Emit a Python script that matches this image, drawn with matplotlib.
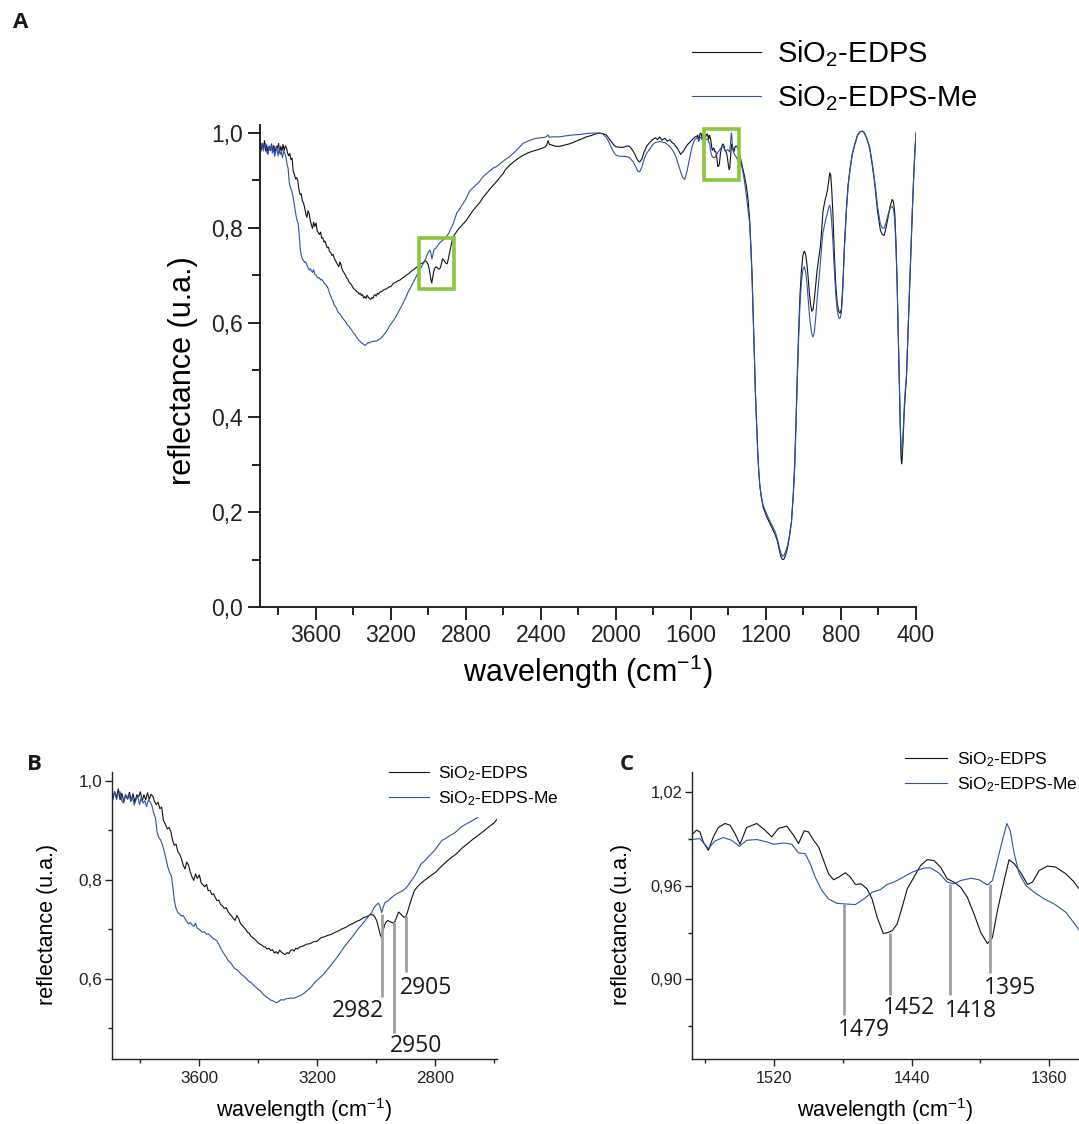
import matplotlib
matplotlib.use("Agg")
import matplotlib.pyplot as plt
from matplotlib.patches import Rectangle
from matplotlib.ticker import FuncFormatter, MultipleLocator

plt.rcParams["font.family"] = ["Liberation Sans", "DejaVu Sans"]
plt.rcParams["mathtext.fontset"] = "custom"
plt.rcParams["mathtext.rm"] = "Liberation Sans"
plt.rcParams["mathtext.default"] = "regular"

# ---- data: 3900-2590 cm-1 (OH / CH stretch region) ----
wn_edps_hi = [3898, 3893, 3886, 3880, 3874, 3868, 3862, 3855, 3849, 3842, 3836, 3830, 3824, 3818, 3811,
              3805, 3799, 3793, 3787, 3781, 3775, 3769, 3763, 3757, 3751, 3745, 3739, 3733, 3727, 3721,
              3714, 3708, 3702, 3696, 3690, 3684, 3678, 3672, 3666, 3660, 3654, 3648, 3642, 3636, 3630,
              3624, 3618, 3612, 3606, 3599, 3593, 3587, 3581, 3575, 3569, 3563, 3557, 3551, 3545, 3539,
              3533, 3527, 3521, 3515, 3508, 3502, 3496, 3490, 3484, 3478, 3472, 3466, 3460, 3454, 3448,
              3442, 3436, 3430, 3424, 3418, 3411, 3405, 3399, 3393, 3387, 3381, 3375, 3369, 3363, 3357,
              3351, 3345, 3339, 3333, 3327, 3321, 3314, 3308, 3302, 3296, 3290, 3284, 3278, 3272, 3266,
              3260, 3248, 3236, 3224, 3212, 3200, 3187, 3175, 3163, 3151, 3139, 3127, 3115, 3103, 3090,
              3078, 3066, 3054, 3042, 3030, 3018, 3010, 3003, 2997, 2991, 2986, 2982, 2978, 2972, 2966,
              2960, 2954, 2948, 2942, 2936, 2930, 2924, 2918, 2912, 2906, 2900, 2893, 2886, 2878, 2870,
              2860, 2848, 2836, 2818, 2799, 2781, 2763, 2745, 2727, 2709, 2690, 2672, 2654, 2636, 2618,
              2600, 2591]
r_edps_hi = [0.988, 0.962, 0.978, 0.966, 0.984, 0.962, 0.975, 0.958, 0.972, 0.963, 0.977, 0.960, 0.974, 0.957, 0.972,
             0.968, 0.978, 0.959, 0.972, 0.962, 0.976, 0.963, 0.973, 0.969, 0.958, 0.952, 0.957, 0.944, 0.947, 0.920,
             0.912, 0.903, 0.906, 0.898, 0.880, 0.870, 0.872, 0.857, 0.852, 0.843, 0.830, 0.822, 0.836, 0.830, 0.816,
             0.806, 0.799, 0.812, 0.803, 0.810, 0.794, 0.790, 0.786, 0.791, 0.778, 0.779, 0.770, 0.772, 0.764, 0.758,
             0.759, 0.750, 0.748, 0.742, 0.744, 0.736, 0.731, 0.727, 0.722, 0.718, 0.728, 0.722, 0.712, 0.708, 0.704,
             0.700, 0.694, 0.692, 0.686, 0.683, 0.680, 0.676, 0.672, 0.670, 0.668, 0.665, 0.664, 0.660, 0.662, 0.657,
             0.659, 0.652, 0.655, 0.651, 0.658, 0.654, 0.651, 0.649, 0.653, 0.651, 0.657, 0.659, 0.656, 0.662, 0.660,
             0.664, 0.666, 0.670, 0.671, 0.675, 0.676, 0.683, 0.685, 0.688, 0.690, 0.694, 0.697, 0.701, 0.704, 0.709,
             0.712, 0.716, 0.719, 0.724, 0.726, 0.730, 0.729, 0.724, 0.716, 0.702, 0.690, 0.684, 0.693, 0.707, 0.715,
             0.718, 0.716, 0.714, 0.713, 0.716, 0.725, 0.735, 0.732, 0.728, 0.725, 0.724, 0.736, 0.750, 0.765, 0.778,
             0.786, 0.793, 0.799, 0.807, 0.815, 0.826, 0.836, 0.845, 0.853, 0.864, 0.873, 0.882, 0.890, 0.898, 0.907,
             0.915, 0.922]

wn_me_hi = [3898, 3892, 3886, 3880, 3874, 3868, 3862, 3856, 3850, 3844, 3838, 3832, 3826, 3820, 3814,
            3808, 3802, 3796, 3790, 3784, 3778, 3772, 3766, 3760, 3754, 3748, 3742, 3736, 3730, 3724,
            3718, 3712, 3706, 3700, 3694, 3688, 3684, 3678, 3672, 3666, 3660, 3654, 3648, 3642, 3636,
            3630, 3624, 3618, 3612, 3606, 3599, 3593, 3587, 3581, 3575, 3569, 3563, 3557, 3551, 3545,
            3539, 3533, 3527, 3521, 3515, 3508, 3502, 3496, 3490, 3484, 3478, 3472, 3466, 3460, 3454,
            3448, 3442, 3436, 3430, 3424, 3418, 3411, 3405, 3399, 3393, 3387, 3381, 3375, 3369, 3363,
            3357, 3351, 3345, 3339, 3333, 3327, 3321, 3314, 3308, 3302, 3290, 3278, 3266, 3254, 3242,
            3230, 3218, 3206, 3194, 3182, 3170, 3158, 3146, 3134, 3122, 3110, 3098, 3086, 3074, 3062,
            3050, 3038, 3026, 3014, 3006, 2998, 2992, 2986, 2981, 2975, 2969, 2960, 2950, 2940, 2930,
            2920, 2910, 2900, 2890, 2880, 2872, 2860, 2848, 2836, 2824, 2812, 2800, 2788, 2776, 2763,
            2751, 2739, 2727, 2715, 2703, 2691, 2679, 2667, 2656]
r_me_hi = [0.991, 0.970, 0.978, 0.962, 0.975, 0.978, 0.960, 0.955, 0.972, 0.964, 0.975, 0.958, 0.968, 0.951, 0.962,
           0.970, 0.952, 0.966, 0.955, 0.960, 0.948, 0.962, 0.958, 0.950, 0.935, 0.925, 0.895, 0.885, 0.880, 0.870,
           0.857, 0.842, 0.826, 0.815, 0.808, 0.780, 0.758, 0.742, 0.734, 0.731, 0.727, 0.728, 0.722, 0.716, 0.711,
           0.714, 0.709, 0.706, 0.712, 0.702, 0.700, 0.696, 0.694, 0.695, 0.690, 0.691, 0.688, 0.684, 0.681, 0.679,
           0.676, 0.670, 0.662, 0.656, 0.650, 0.644, 0.637, 0.634, 0.630, 0.624, 0.620, 0.619, 0.615, 0.611, 0.608,
           0.605, 0.602, 0.598, 0.594, 0.593, 0.589, 0.585, 0.582, 0.578, 0.576, 0.572, 0.568, 0.565, 0.562, 0.560,
           0.557, 0.556, 0.554, 0.552, 0.553, 0.556, 0.558, 0.557, 0.559, 0.560, 0.561, 0.561, 0.564, 0.567, 0.572,
           0.578, 0.585, 0.594, 0.600, 0.607, 0.615, 0.624, 0.633, 0.642, 0.652, 0.663, 0.672, 0.681, 0.690, 0.700,
           0.708, 0.717, 0.726, 0.735, 0.745, 0.750, 0.753, 0.745, 0.734, 0.746, 0.755, 0.757, 0.763, 0.768, 0.772,
           0.775, 0.778, 0.783, 0.790, 0.799, 0.805, 0.818, 0.832, 0.838, 0.846, 0.853, 0.861, 0.871, 0.880, 0.884,
           0.889, 0.893, 0.898, 0.905, 0.910, 0.914, 0.918, 0.922, 0.926]

# ---- data: 2640-1575 cm-1 ----
wn_edps_mid = [2567, 2540, 2520, 2496, 2470, 2450, 2425, 2400, 2380, 2370, 2362, 2355, 2344, 2320, 2300,
               2270, 2250, 2229, 2200, 2180, 2158, 2130, 2110, 2087, 2070, 2051, 2030, 2010, 1998, 1980,
               1960, 1940, 1927, 1910, 1895, 1885, 1874, 1862, 1850, 1835, 1820, 1805, 1790, 1778, 1767,
               1755, 1740, 1725, 1713, 1700, 1690, 1670, 1655, 1640, 1620, 1605, 1589, 1578]
r_edps_mid = [0.932, 0.941, 0.947, 0.953, 0.958, 0.961, 0.964, 0.967, 0.970, 0.974, 0.984, 0.976, 0.975, 0.972, 0.972,
              0.975, 0.977, 0.980, 0.985, 0.988, 0.992, 0.995, 0.998, 1.000, 0.999, 0.996, 0.985, 0.974, 0.971, 0.970,
              0.970, 0.973, 0.972, 0.963, 0.952, 0.943, 0.939, 0.945, 0.960, 0.973, 0.980, 0.986, 0.990, 0.986, 0.992,
              0.985, 0.989, 0.983, 0.986, 0.980, 0.977, 0.966, 0.955, 0.962, 0.975, 0.981, 0.988, 0.992]

wn_me_mid = [2638, 2610, 2590, 2567, 2540, 2520, 2496, 2470, 2450, 2425, 2400, 2380, 2370, 2362, 2355,
             2340, 2300, 2270, 2229, 2190, 2158, 2120, 2087, 2070, 2055, 2042, 2025, 2010, 1998, 1980,
             1960, 1940, 1927, 1910, 1895, 1884, 1874, 1862, 1850, 1835, 1820, 1805, 1790, 1767, 1740,
             1713, 1695, 1680, 1669, 1655, 1645, 1633, 1622, 1607, 1595, 1582]
r_me_mid = [0.929, 0.938, 0.944, 0.950, 0.960, 0.968, 0.978, 0.983, 0.986, 0.989, 0.990, 0.991, 0.993, 0.996, 0.991,
            0.992, 0.992, 0.994, 0.996, 0.997, 0.999, 1.000, 1.000, 0.998, 0.992, 0.985, 0.970, 0.958, 0.953, 0.951,
            0.951, 0.950, 0.948, 0.940, 0.930, 0.920, 0.918, 0.928, 0.945, 0.958, 0.966, 0.975, 0.980, 0.982, 0.980,
            0.972, 0.962, 0.950, 0.936, 0.918, 0.907, 0.902, 0.918, 0.947, 0.970, 0.985]

# ---- data: 1568-1342 cm-1 (CH bending region) ----
wn_edps_c = [1568.1, 1565.2, 1563.2, 1561.3, 1558.3, 1555.4, 1552.5, 1548.6, 1545.7, 1542.8, 1539.9, 1536.0,
             1530.1, 1525.3, 1521.4, 1517.5, 1512.6, 1508.7, 1505.8, 1502.5, 1500.0, 1497.0, 1494.1, 1491.2,
             1488.3, 1485.4, 1482.4, 1478.5, 1475.6, 1472.7, 1469.4, 1465.9, 1463.0, 1460.0, 1456.5, 1454.2,
             1451.3, 1448.4, 1445.5, 1442.5, 1438.6, 1434.7, 1430.9, 1427.0, 1423.1, 1419.2, 1415.3, 1411.4,
             1407.5, 1403.6, 1399.7, 1395.8, 1392.9, 1390.0, 1386.1, 1383.2, 1380.2, 1376.3, 1372.5, 1369.6,
             1365.7, 1360.8, 1356.0, 1350.1, 1345.3, 1342.0]
r_edps_c = [0.9925, 0.9957, 0.9946, 0.9882, 0.9828, 0.9914, 0.9974, 1.0000, 0.9989, 0.9935, 0.9867, 0.9974,
            1.0000, 0.9957, 0.9914, 0.9968, 0.9983, 0.9925, 0.9871, 0.9953, 0.9946, 0.9892, 0.9849, 0.9763,
            0.9677, 0.9639, 0.9656, 0.9684, 0.9656, 0.9609, 0.9613, 0.9581, 0.9516, 0.9398, 0.9295, 0.9299,
            0.9312, 0.9355, 0.9462, 0.9581, 0.9656, 0.9731, 0.9768, 0.9763, 0.9720, 0.9645, 0.9624, 0.9591,
            0.9527, 0.9419, 0.9301, 0.9230, 0.9269, 0.9441, 0.9634, 0.9768, 0.9742, 0.9682, 0.9609, 0.9624,
            0.9699, 0.9727, 0.9720, 0.9677, 0.9624, 0.9574]

wn_me_c = [1568.1, 1563.2, 1558.3, 1554.4, 1549.6, 1544.7, 1540.2, 1536.0, 1530.1, 1524.3, 1520.4, 1514.5,
           1509.7, 1505.8, 1501.9, 1499.0, 1496.1, 1492.2, 1488.3, 1483.4, 1478.5, 1472.7, 1467.8, 1463.0,
           1458.1, 1454.2, 1450.3, 1445.5, 1439.6, 1432.8, 1428.9, 1424.0, 1419.2, 1415.3, 1411.4, 1405.5,
           1400.7, 1395.8, 1392.9, 1390.0, 1387.1, 1384.5, 1382.6, 1380.2, 1377.3, 1373.4, 1368.6, 1362.7,
           1356.9, 1350.1, 1342.0]
r_me_c = [0.9897, 0.9903, 0.9839, 0.9888, 0.9910, 0.9892, 0.9854, 0.9892, 0.9897, 0.9882, 0.9867, 0.9875,
          0.9867, 0.9811, 0.9806, 0.9742, 0.9656, 0.9570, 0.9516, 0.9488, 0.9484, 0.9480, 0.9516, 0.9559,
          0.9576, 0.9609, 0.9624, 0.9652, 0.9688, 0.9714, 0.9716, 0.9682, 0.9624, 0.9613, 0.9634, 0.9649,
          0.9639, 0.9606, 0.9634, 0.9763, 0.9892, 1.0000, 0.9957, 0.9806, 0.9677, 0.9602, 0.9559, 0.9516,
          0.9484, 0.9430, 0.9312]

# ---- data: 1335-400 cm-1 (Si-O region) ----
wn_low = [1335, 1325, 1315, 1304, 1295, 1287, 1280, 1274, 1269, 1262, 1256, 1251, 1244, 1238, 1233,
          1225, 1216, 1198, 1180, 1162, 1150, 1140, 1130, 1120, 1112, 1104, 1095, 1085, 1075, 1064,
          1055, 1047, 1040, 1033, 1026, 1019, 1011, 1003, 996, 989, 982, 975, 968, 961, 955,
          949, 942, 935, 927, 918, 910, 902, 896, 888, 880, 872, 865, 860, 855, 850,
          843, 836, 828, 820, 812, 805, 798, 790, 782, 771, 762, 753, 740, 727, 712,
          698, 685, 675, 662, 647, 633, 620, 605, 590, 580, 570, 560, 549, 538, 527,
          520, 513, 507, 501, 495, 489, 484, 480, 477, 474, 469, 463, 457, 451, 445,
          439, 433, 426, 419, 412, 406, 400]
r_edps_low = [0.945, 0.928, 0.910, 0.887, 0.858, 0.817, 0.760, 0.700, 0.630, 0.530, 0.450, 0.400, 0.330, 0.285, 0.258,
              0.232, 0.212, 0.192, 0.177, 0.162, 0.152, 0.140, 0.122, 0.106, 0.100, 0.101, 0.110, 0.125, 0.148, 0.180,
              0.235, 0.300, 0.390, 0.490, 0.580, 0.655, 0.710, 0.742, 0.751, 0.745, 0.725, 0.695, 0.660, 0.635, 0.624,
              0.628, 0.650, 0.680, 0.712, 0.738, 0.760, 0.800, 0.835, 0.852, 0.866, 0.880, 0.900, 0.916, 0.912, 0.885,
              0.830, 0.750, 0.680, 0.640, 0.624, 0.620, 0.628, 0.680, 0.760, 0.840, 0.890, 0.920, 0.955, 0.975, 0.995,
              1.003, 1.004, 1.000, 0.988, 0.968, 0.932, 0.893, 0.835, 0.795, 0.786, 0.784, 0.800, 0.823, 0.845, 0.860,
              0.855, 0.830, 0.770, 0.690, 0.580, 0.470, 0.380, 0.320, 0.302, 0.310, 0.350, 0.410, 0.450, 0.482, 0.550,
              0.620, 0.685, 0.760, 0.840, 0.910, 0.960, 1.000]
r_me_low = [0.940, 0.922, 0.900, 0.866, 0.836, 0.809, 0.750, 0.690, 0.625, 0.525, 0.445, 0.395, 0.325, 0.282, 0.256,
            0.234, 0.216, 0.198, 0.182, 0.168, 0.158, 0.145, 0.128, 0.113, 0.107, 0.109, 0.117, 0.130, 0.150, 0.180,
            0.230, 0.292, 0.380, 0.478, 0.565, 0.635, 0.685, 0.712, 0.718, 0.708, 0.685, 0.650, 0.615, 0.590, 0.575,
            0.570, 0.580, 0.610, 0.650, 0.690, 0.725, 0.765, 0.790, 0.805, 0.820, 0.832, 0.843, 0.848, 0.840, 0.815,
            0.770, 0.715, 0.660, 0.625, 0.610, 0.609, 0.620, 0.670, 0.755, 0.838, 0.890, 0.920, 0.955, 0.976, 0.996,
            1.003, 1.004, 1.000, 0.989, 0.970, 0.936, 0.898, 0.845, 0.808, 0.800, 0.799, 0.810, 0.828, 0.842, 0.845,
            0.840, 0.815, 0.760, 0.690, 0.585, 0.480, 0.395, 0.340, 0.322, 0.328, 0.365, 0.420, 0.458, 0.488, 0.555,
            0.625, 0.690, 0.765, 0.845, 0.912, 0.960, 1.000]

labels = ["SiO$_2$-EDPS", "SiO$_2$-EDPS-Me"]
colors = ["#111111", "#3050ae"]

# highlighted regions in panel A: (wn left, wn right, r bottom, r top)
boxes = [(3050, 2865, 0.672, 0.778), (1532, 1344, 0.901, 1.008)]

# peak markers: line position, line top, line bottom, label, label position
b_pos = [2981, 2939, 2899]
b_top = [0.731, 0.714, 0.726]
b_bot = [0.5635, 0.491, 0.613]
b_text = ["2982", "2950", "2905"]
b_text_xy = [(3060, 0.535), (2866, 0.464), (2829, 0.582)]

c_pos = [1479.3, 1452.8, 1417.4, 1394.6]
c_top = [0.9484, 0.930, 0.961, 0.961]
c_bot = [0.8774, 0.890, 0.890, 0.904]
c_text = ["1479", "1452", "1418", "1395"]
c_text_xy = [(1467.8, 0.8677), (1441.6, 0.8817), (1405.5, 0.880), (1382.6, 0.8946)]

W, H = 1079, 1124
fig = plt.figure(figsize=(W / 100, H / 100), dpi=100)


def comma(fmt):
    return FuncFormatter(lambda v, p: fmt.format(v).replace(".", ","))


def style(ax, major_len, minor_len, lw, size):
    for s in ["top", "right"]:
        ax.spines[s].set_visible(False)
    for s in ["left", "bottom"]:
        ax.spines[s].set_linewidth(lw)
        ax.spines[s].set_color("#222222")
    ax.tick_params(which="major", direction="out", length=major_len, width=lw,
                   labelsize=size, colors="#222222")
    ax.tick_params(which="minor", direction="out", length=minor_len, width=lw, colors="#222222")


# ---------------- panel A ----------------
axA = fig.add_axes([260 / W, 1 - 607 / H, 656 / W, 482 / H])
wn_edps = wn_edps_hi + wn_edps_mid + wn_edps_c + wn_low
r_edps = r_edps_hi + r_edps_mid + r_edps_c + r_edps_low
wn_me = wn_me_hi + wn_me_mid + wn_me_c + wn_low
r_me = r_me_hi + r_me_mid + r_me_c + r_me_low
axA.plot(wn_edps, r_edps, color=colors[0], lw=0.8, label=labels[0])
axA.plot(wn_me, r_me, color=colors[1], lw=0.8, label=labels[1])
for x0, x1, y0, y1 in boxes:
    axA.add_patch(Rectangle((x1, y0), x0 - x1, y1 - y0, fill=False,
                            edgecolor="#8cc63e", lw=2.6, zorder=5))
axA.set_xlim(3898, 400)
axA.set_ylim(0, 1.017)
axA.xaxis.set_major_locator(MultipleLocator(400))
axA.xaxis.set_minor_locator(MultipleLocator(200))
axA.yaxis.set_major_locator(MultipleLocator(0.2))
axA.yaxis.set_minor_locator(MultipleLocator(0.1))
axA.yaxis.set_major_formatter(comma("{:.1f}"))
style(axA, 9, 5.5, 1.4, 16.5)
axA.set_xlabel("wavelength (cm$^{-1}$)", fontsize=22)
axA.set_ylabel("reflectance (u.a.)", fontsize=22)
axA.xaxis.set_label_coords(0.5, -0.095)
axA.yaxis.set_label_coords(-0.095, 0.49)
axA.legend(loc="center left", bbox_to_anchor=(692 / W, 1 - 76 / H), bbox_transform=fig.transFigure,
           frameon=False, fontsize=21, handlelength=2.35, handletextpad=0.55, labelspacing=0.45,
           borderpad=0, borderaxespad=0)

# ---------------- panel B ----------------
axB = fig.add_axes([111.5 / W, 1 - 1059 / H, 385.5 / W, 287 / H])
axB.plot(wn_edps_hi, r_edps_hi, color=colors[0], lw=0.8, label=labels[0])
axB.plot(wn_me_hi, r_me_hi, color=colors[1], lw=0.8, label=labels[1])
for x, y0, y1 in zip(b_pos, b_top, b_bot):
    axB.plot([x, x], [y0, y1], color="#a0a0a0", lw=2.0, solid_capstyle="butt")
for t, (x, y) in zip(b_text, b_text_xy):
    axB.text(x, y, t, fontsize=16.5, family="Open Sans", ha="center", va="center", color="#1a1a1a")
axB.set_xlim(3897, 2590)
axB.set_ylim(0.438, 1.018)
axB.xaxis.set_major_locator(MultipleLocator(400))
axB.xaxis.set_minor_locator(MultipleLocator(200))
axB.yaxis.set_major_locator(MultipleLocator(0.2))
axB.yaxis.set_minor_locator(MultipleLocator(0.1))
axB.yaxis.set_major_formatter(comma("{:.1f}"))
style(axB, 5, 3, 1.0, 12.3)
axB.tick_params(axis="y", pad=1.5)
axB.set_xlabel("wavelength (cm$^{-1}$)", fontsize=15.5)
axB.set_ylabel("reflectance (u.a.)", fontsize=15.5)
axB.xaxis.set_label_coords(0.5, -0.128)
axB.yaxis.set_label_coords(-0.14, 0.47)
axB.legend(loc="center left", bbox_to_anchor=(389 / W, 1 - 786 / H), bbox_transform=fig.transFigure,
           frameon=False, fontsize=12.5, handlelength=2.3, handletextpad=0.55, labelspacing=0.4,
           borderpad=0, borderaxespad=0)

# ---------------- panel C ----------------
axC = fig.add_axes([691.7 / W, 1 - 1059 / H, (W - 691.7) / W, 287 / H])
axC.plot(wn_edps_c, r_edps_c, color=colors[0], lw=0.8, label=labels[0])
axC.plot(wn_me_c, r_me_c, color=colors[1], lw=0.8, label=labels[1])
for x, y0, y1 in zip(c_pos, c_top, c_bot):
    axC.plot([x, x], [y0, y1], color="#a0a0a0", lw=2.0, solid_capstyle="butt")
for t, (x, y) in zip(c_text, c_text_xy):
    axC.text(x, y, t, fontsize=16.5, family="Open Sans", ha="center", va="center", color="#1a1a1a")
axC.set_xlim(1568, 1342.5)
axC.set_ylim(0.849, 1.033)
axC.xaxis.set_major_locator(MultipleLocator(80))
axC.xaxis.set_minor_locator(MultipleLocator(40))
axC.yaxis.set_major_locator(MultipleLocator(0.06))
axC.yaxis.set_minor_locator(MultipleLocator(0.03))
axC.yaxis.set_major_formatter(comma("{:.2f}"))
style(axC, 5, 3, 1.0, 11.8)
axC.tick_params(axis="y", pad=1.5)
axC.set_xlabel("wavelength (cm$^{-1}$)", fontsize=15.5)
axC.set_ylabel("reflectance (u.a.)", fontsize=15.5)
axC.xaxis.set_label_coords(0.5, -0.128)
axC.yaxis.set_label_coords(-0.155, 0.47)
axC.legend(loc="center left", bbox_to_anchor=(905 / W, 1 - 772 / H), bbox_transform=fig.transFigure,
           frameon=False, fontsize=12.5, handlelength=2.4, handletextpad=0.6, labelspacing=0.4,
           borderpad=0, borderaxespad=0)

# panel letters
for letter, (x, y) in zip("ABC", [(13, 22), (27, 765), (620, 765)]):
    fig.text(x / W, 1 - y / H, letter, fontsize=16, fontweight="bold", family="Open Sans",
             va="center", ha="left", color="#1a1a1a")

fig.savefig("out.png", dpi=100)
